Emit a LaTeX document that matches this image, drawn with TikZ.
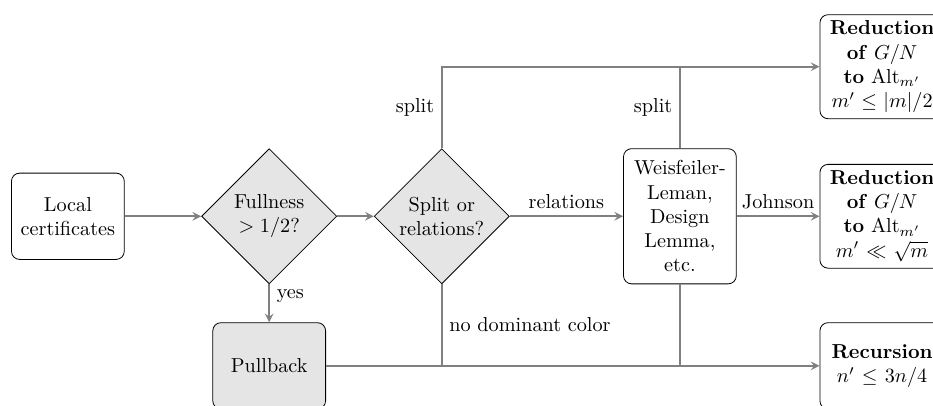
\documentclass[tikz,border=0pt]{standalone}
\usetikzlibrary{shapes, arrows, positioning, calc}
\usepackage{amsmath,amssymb}

\tikzset{
  block/.style={draw, rounded corners, align=center, text width=1.75cm, minimum height=1.5cm, inner sep=3pt},
  outcome/.style={block, text width=1.95cm, anchor=west},
  decision/.style={draw, diamond, aspect=1, fill=gray!20, align=center, inner sep=0pt, minimum size=2.35cm},
  line/.style={draw=gray, line width=0.9pt},
  arrow/.style={line, ->, >=stealth},
}

\begin{document}
\begin{tikzpicture}

                    \useasboundingbox (-1.18, -3.29) rectangle (15.04, 3.76);

                    \node [block] (L) at (0, 0) {Local\\certificates};
                    \node [decision] (F) at ($(L) + (3.5, 0)$) {Fullness\\$>1/2$?};
                    \node [block, fill=gray!20] (P) at ($(F) - (0, 2.6)$) {Pullback};
                    \node [decision] (S) at ($(F) + (3, 0)$) {Split or\\relations?};
                    \node [block, minimum height=2.35cm] (W) at ($(S) + (4.14, 0)$) {Weisfeiler-\\Leman,\\Design\\Lemma,\\etc.};
                    \node [outcome] (R1) at ($(W.east) + (1.44, 2.6)$) {\textbf{Reduction}\\\textbf{of} $G/N$\\\textbf{to} $\mathrm{Alt}_{m'}$\\$m' \le |m|/2$};
                    \node [outcome] (R2) at ($(W.east) + (1.44, 0)$) {\textbf{Reduction}\\\textbf{of} $G/N$\\\textbf{to} $\mathrm{Alt}_{m'}$\\$m' \ll \sqrt{m}$};
                    \node [outcome] (R3) at ($(W.east) + (1.44, -2.6)$) {\textbf{Recursion}\\$n' \le 3n/4$};

                    \draw [arrow] (L) -- (F);
                    \draw [arrow] (F) -- (S);
                    \draw [arrow] (F) -- node [pos=0.3, right] {yes} (P);
                    \draw [arrow] (S) -- node [above] {relations} (W);
                    \draw [arrow] (W) -- node [above] {Johnson} (R2);

                    \draw [arrow] (S.north) |- node [pos=0.25, left] {split} (R1.west);
                    \draw [line] (W.north) -- node [left] {split} (W.north |- R1.west);

                    \draw [arrow] (P.east) -- (R3.west);
                    \draw [line] (S.south) -- node [right] {no dominant color} (S.south |- R3.west);
                    \draw [line] (W.south) -- (W.south |- R3.west);
                \end{tikzpicture}
\end{document}
